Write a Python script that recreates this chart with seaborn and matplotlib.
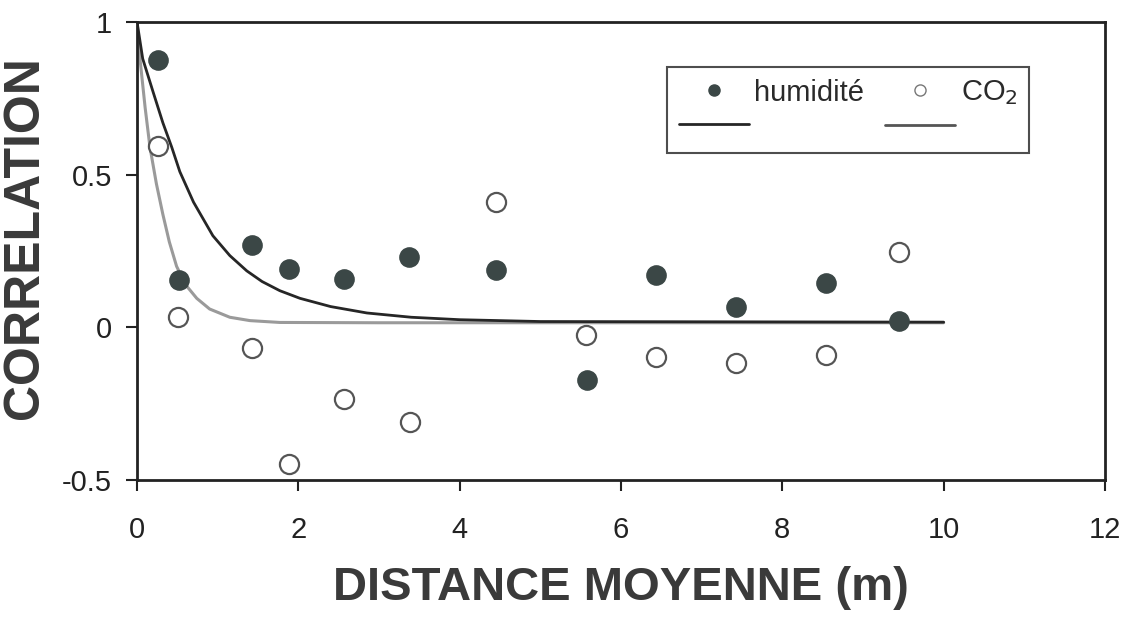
import matplotlib
matplotlib.use("Agg")
import matplotlib.pyplot as plt
import seaborn as sns
import pandas as pd
from matplotlib.lines import Line2D

# Points mesurés
dist_hum = [0.26, 0.52, 1.43, 1.88, 2.57, 3.37, 4.45, 5.58, 6.43, 7.43, 8.54, 9.45]
corr_hum = [0.875, 0.154, 0.27, 0.19, 0.157, 0.23, 0.187, -0.174, 0.17, 0.066, 0.144, 0.02]

dist_co2 = [0.26, 0.51, 1.43, 1.88, 2.57, 3.38, 4.45, 5.56, 6.43, 7.43, 8.54, 9.45]
corr_co2 = [0.593, 0.033, -0.069, -0.446, -0.236, -0.311, 0.41, -0.026, -0.098, -0.118, -0.092, 0.246]

# Courbes ajustées
fit_hum_x = [0, 0.07, 0.2, 0.32, 0.43, 0.53, 0.7, 0.94, 1.15, 1.36, 1.55, 1.77, 2.02, 2.4, 2.85, 3.4, 4.0, 5.0, 10.0]
fit_hum_y = [1.0, 0.88, 0.77, 0.67, 0.59, 0.51, 0.41, 0.30, 0.235, 0.185, 0.15, 0.12, 0.095, 0.068, 0.047, 0.033, 0.025, 0.019, 0.017]

fit_co2_x = [0, 0.04, 0.1, 0.16, 0.24, 0.32, 0.4, 0.49, 0.6, 0.74, 0.9, 1.15, 1.4, 1.77, 3.0, 10.0]
fit_co2_y = [1.0, 0.87, 0.72, 0.59, 0.47, 0.37, 0.28, 0.2, 0.14, 0.095, 0.06, 0.033, 0.022, 0.016, 0.015, 0.015]

df_hum = pd.DataFrame({"distance": dist_hum, "corr": corr_hum})
df_co2 = pd.DataFrame({"distance": dist_co2, "corr": corr_co2})
df_fh = pd.DataFrame({"distance": fit_hum_x, "corr": fit_hum_y})
df_fc = pd.DataFrame({"distance": fit_co2_x, "corr": fit_co2_y})

sns.set_theme(style="white")
plt.rcParams['font.family'] = ['Liberation Sans', 'DejaVu Sans']

col_fill = "#3b4746"
col_text = "#2a2a2a"

fig = plt.figure(figsize=(11.28, 6.18), dpi=100)
ax = fig.add_axes([0.1215, 0.2233, 0.8581, 0.7411])

sns.lineplot(data=df_fc, x="distance", y="corr", color="#9a9a9a", linewidth=2.2, sort=False, ax=ax)
sns.lineplot(data=df_fh, x="distance", y="corr", color="#262626", linewidth=2.0, sort=False, ax=ax)
sns.scatterplot(data=df_hum, x="distance", y="corr", s=190, color=col_fill, edgecolor=col_fill, ax=ax, zorder=3)
sns.scatterplot(data=df_co2, x="distance", y="corr", s=190, facecolor="white", edgecolor="#555555",
                linewidth=1.6, ax=ax, zorder=3)

ax.set_xlim(0, 12)
ax.set_ylim(-0.5, 1)
ax.set_xticks([0, 2, 4, 6, 8, 10, 12])
ax.set_yticks([-0.5, 0, 0.5, 1])
ax.set_yticklabels(["-0.5", "0", "0.5", "1"])
ax.tick_params(axis="both", direction="out", length=8, width=1.5, labelsize=21,
               colors="#222222", left=True, bottom=True)
ax.tick_params(axis="x", pad=18)
ax.tick_params(axis="y", pad=10)
for sp in ax.spines.values():
    sp.set_color("#222222")
    sp.set_linewidth(2)

ax.set_xlabel("DISTANCE MOYENNE (m)", fontsize=34, fontweight="bold", color="#3a3a3a", labelpad=16)
ax.set_ylabel("CORRELATION", fontsize=36, fontweight="bold", color="#3a3a3a")
ax.yaxis.set_label_coords(-0.092, 0.53)

handles = [
    Line2D([], [], marker="o", linestyle="none", markersize=8, markerfacecolor=col_fill, markeredgecolor=col_fill),
    Line2D([], [], color="#262626", linewidth=2),
    Line2D([], [], marker="o", linestyle="none", markersize=8, markerfacecolor="white", markeredgecolor="#777777"),
    Line2D([], [], color="#555555", linewidth=2),
]
labels = ["humidité", " ", "CO$_2$", " "]
leg = ax.legend(handles, labels, ncol=2, loc="upper left", bbox_to_anchor=(0.5475, 0.902),
                borderaxespad=0, fontsize=21, frameon=True, fancybox=False, edgecolor="#222222",
                handlelength=2.4, handletextpad=0.2, columnspacing=0.7, borderpad=0.4, labelspacing=0.2)
leg.get_frame().set_linewidth(1.5)
for t in leg.get_texts():
    t.set_color(col_text)

fig.savefig("out.png", dpi=100)
